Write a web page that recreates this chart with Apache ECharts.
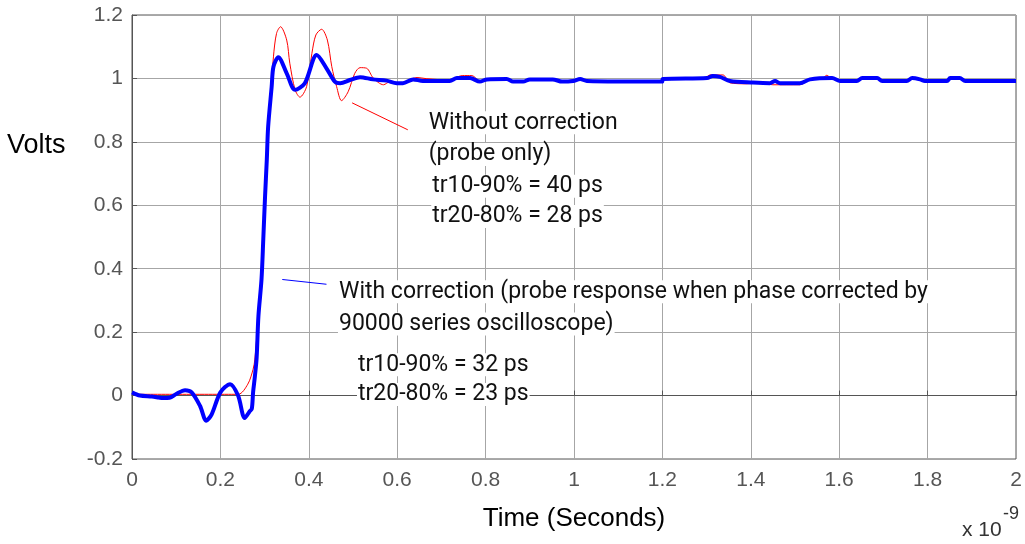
<!DOCTYPE html>
<html>
<head>
<meta charset="utf-8">
<script src="https://cdn.jsdelivr.net/npm/echarts@6/dist/echarts.min.js"></script>
<style>html,body{margin:0;padding:0;background:#fff;}#c{width:1025px;height:544px;}</style>
</head>
<body>
<div id="c"></div>
<script>
// Time in units of 1e-9 s (ns), values in volts
var blueT = [0.000,0.018,0.045,0.060,0.070,0.085,0.100,0.120,0.135,0.154,0.168,0.180,0.200,0.222,0.240,0.255,0.266,0.271,0.274,0.278,0.282,0.286,0.293,0.297,0.301,0.305,0.308,0.316,0.320,0.331,0.350,0.369,0.391,0.418,0.440,0.459,0.471,0.493,0.516,0.545,0.576,0.599,0.613,0.636,0.658,0.719,0.735,0.765,0.787,0.803,0.848,0.862,0.885,0.900,0.952,0.973,0.998,1.014,1.029,1.199,1.201,1.301,1.314,1.330,1.353,1.405,1.443,1.455,1.466,1.511,1.534,1.584,1.602,1.640,1.652,1.686,1.697,1.753,1.765,1.783,1.794,1.844,1.851,1.873,1.885,2.000];
var blueV = [0.010,0.000,-0.003,-0.006,-0.008,-0.007,0.005,0.017,0.010,-0.033,-0.079,-0.060,0.010,0.036,0.000,-0.071,-0.050,-0.042,0.011,0.060,0.120,0.250,0.366,0.492,0.627,0.744,0.847,0.974,1.037,1.067,1.016,0.964,0.985,1.074,1.032,0.990,0.985,0.995,1.004,0.997,0.993,0.985,0.985,0.997,0.992,0.992,1.001,1.001,0.990,0.997,0.998,0.990,0.990,0.997,0.997,0.990,0.992,0.998,0.992,0.990,0.998,1.001,1.008,1.005,0.992,0.987,0.985,0.992,0.985,0.985,0.997,1.001,0.992,0.992,1.001,1.001,0.992,0.992,1.001,0.997,0.992,0.992,1.001,1.001,0.992,0.992];
var redT = [0.000,0.240,0.262,0.274,0.278,0.286,0.293,0.297,0.301,0.305,0.308,0.320,0.327,0.336,0.350,0.357,0.369,0.380,0.395,0.407,0.416,0.429,0.442,0.452,0.463,0.474,0.489,0.504,0.516,0.531,0.546,0.569,0.584,0.606,0.645,0.667,0.719,0.747,0.769,0.787,0.817,0.848,0.862,0.885,0.900,0.952,0.973,1.014,1.029,1.199,1.201,1.296,1.308,1.337,1.353,1.391,1.421,1.450,1.511,1.534,1.563,1.572,1.581,1.602,1.640,1.652,1.686,1.697,1.753,1.765,1.783,1.794,1.844,1.851,1.873,1.885,2.000];
var redV = [0.004,0.004,0.036,0.083,0.115,0.250,0.366,0.492,0.627,0.744,0.847,1.068,1.142,1.163,1.121,1.048,0.964,0.941,0.974,1.079,1.137,1.155,1.121,1.037,0.974,0.930,0.958,1.016,1.034,1.032,1.001,0.980,0.990,0.985,1.003,0.999,0.995,1.009,1.009,0.992,0.997,0.998,0.991,0.991,0.997,0.997,0.991,0.998,0.992,0.992,0.998,1.002,1.011,1.011,0.986,0.983,0.987,0.980,0.980,0.997,1.001,1.010,1.001,0.992,0.992,1.001,1.001,0.992,0.992,1.001,0.997,0.992,0.992,1.001,1.001,0.992,0.992];

var xMin = 0, xMax = 2, xStep = 0.2;
var yMin = -0.2, yMax = 1.2, yStep = 0.2;

// annotation pointer lines (data coords)
var redPointer = [[0.498, 0.923], [0.624, 0.838]];
var bluePointer = [[0.340, 0.366], [0.440, 0.351]];

// annotation text lines, anchored at left-middle in data coords
var noteText = [
  "Without correction", "(probe only)", "tr10-90% = 40 ps", "tr20-80% = 28 ps",
  "With correction (probe response when phase corrected by", "90000 series oscilloscope)", "tr10-90% = 32 ps", "tr20-80% = 23 ps"
];
var noteT = [0.669, 0.669, 0.677, 0.677, 0.466, 0.466, 0.509, 0.509];
var noteV = [0.860, 0.760, 0.660, 0.565, 0.327, 0.226, 0.097, 0.003];

function pairs(t, v) { return t.map(function (x, i) { return [x, v[i]]; }); }

var chart = echarts.init(document.getElementById('c'), null, {renderer: 'canvas'});
var tickFont = {fontFamily: 'Liberation Sans', fontSize: 21, color: '#555'};

chart.setOption({
  animation: false,
  backgroundColor: '#fff',
  grid: {left: 132, right: 9, top: 15, bottom: 85, show: true, borderColor: '#555', borderWidth: 1},
  xAxis: {
    type: 'value', min: xMin, max: xMax, interval: xStep,
    axisLine: {show: true, lineStyle: {color: '#555', width: 1}},
    axisTick: {show: true, inside: true, length: 5, lineStyle: {color: '#555'}},
    axisLabel: Object.assign({margin: 11}, tickFont),
    splitLine: {show: true, lineStyle: {color: '#a6a6a6', width: 1}},
    name: 'Time (Seconds)', nameLocation: 'middle', nameGap: 47,
    nameTextStyle: {fontFamily: 'Liberation Sans', fontSize: 26, color: '#000'}
  },
  yAxis: {
    type: 'value', min: yMin, max: yMax, interval: yStep,
    axisLine: {show: true, lineStyle: {color: '#555', width: 1}},
    axisTick: {show: true, inside: true, length: 5, lineStyle: {color: '#555'}},
    axisLabel: Object.assign({margin: 9}, tickFont),
    splitLine: {show: true, lineStyle: {color: '#a6a6a6', width: 1}}
  },
  series: [
    {
      type: 'line', data: pairs(redT, redV), showSymbol: false, silent: true, smooth: 0.3,
      lineStyle: {color: '#ff0000', width: 1}, z: 3,
      markLine: {silent: true, symbol: 'none', label: {show: false},
        lineStyle: {color: '#ff0000', width: 1, type: 'solid'},
        data: [[{coord: redPointer[0]}, {coord: redPointer[1]}]]}
    },
    {
      type: 'line', data: pairs(blueT, blueV), showSymbol: false, silent: true, smooth: 0.3,
      lineStyle: {color: '#0000ff', width: 4}, z: 4,
      markLine: {silent: true, symbol: 'none', label: {show: false},
        lineStyle: {color: '#0000ff', width: 1, type: 'solid'},
        data: [[{coord: bluePointer[0]}, {coord: bluePointer[1]}]]}
    }
  ]
});

var g = [];
noteText.forEach(function (s, i) {
  var p = chart.convertToPixel({gridIndex: 0}, [noteT[i], noteV[i]]);
  g.push({type: 'text', x: p[0], y: p[1], z: 100,
    style: {text: s, fontFamily: 'Roboto', fontSize: 23, fill: '#111', align: 'left', verticalAlign: 'middle',
      backgroundColor: '#fff', padding: [0, 1]}});
});
g.push({type: 'text', left: 7, top: 132, z: 100,
  style: {text: 'Volts', fontFamily: 'Liberation Sans', fontSize: 27, fill: '#000'}});
g.push({type: 'text', left: 962, top: 520, z: 100,
  style: {text: 'x 10', fontFamily: 'Liberation Sans', fontSize: 21, fill: '#333'}});
g.push({type: 'text', left: 1003, top: 505, z: 100,
  style: {text: '-9', fontFamily: 'Liberation Sans', fontSize: 18, fill: '#333'}});
chart.setOption({graphic: g});
</script>
</body>
</html>
